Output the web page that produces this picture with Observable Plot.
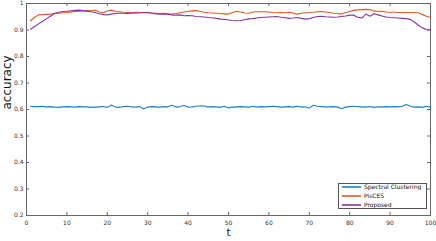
<!DOCTYPE html>
<html>
<head>
<meta charset="utf-8">
<script src="https://cdn.jsdelivr.net/npm/d3@7"></script>
<script src="https://cdn.jsdelivr.net/npm/@observablehq/plot@0.6"></script>
<style>
  html, body { margin: 0; padding: 0; background: #fff; }
  #chart { position: relative; width: 436px; height: 241px; }
  #chart svg { display: block; }
  .legend { position: absolute; left: 338px; top: 183px; width: 87px; height: 24px;
    border: 1px solid #555; background: #fff; font-family: "DejaVu Sans", sans-serif;
    font-size: 6px; color: #111; box-sizing: content-box; }
  .legend .row { position: absolute; left: 0; height: 6px; line-height: 6px; display: flex; align-items: center; }
  .legend svg.sw { display: block; margin: 0 3px 0 3px; }
</style>
</head>
<body>
<div id="chart"></div>
<script>
const seriesNames = ["Spectral Clustering", "PisCES", "Proposed"];
const seriesColors = ["#1a80cc", "#e05a22", "#86369a"];
const xTicks = [0, 10, 20, 30, 40, 50, 60, 70, 80, 90, 100];
const yTicks = [0.2, 0.3, 0.4, 0.5, 0.6, 0.7, 0.8, 0.9, 1];
const yTickLabels = ["0.2", "0.3", "0.4", "0.5", "0.6", "0.7", "0.8", "0.9", "1"];

const spectral = [
  0.612,0.611,0.611,0.612,0.610,0.611,0.609,0.608,0.610,0.611,
  0.610,0.609,0.611,0.610,0.610,0.608,0.609,0.610,0.611,0.608,
  0.617,0.609,0.608,0.611,0.612,0.610,0.609,0.611,0.602,0.609,
  0.611,0.610,0.609,0.611,0.610,0.616,0.609,0.611,0.615,0.609,
  0.610,0.612,0.614,0.613,0.609,0.611,0.610,0.608,0.612,0.606,
  0.609,0.610,0.611,0.610,0.609,0.612,0.609,0.611,0.610,0.611,
  0.612,0.611,0.609,0.610,0.611,0.609,0.612,0.609,0.610,0.605,
  0.616,0.612,0.611,0.610,0.610,0.611,0.609,0.603,0.609,0.611,
  0.612,0.611,0.610,0.609,0.611,0.608,0.610,0.610,0.611,0.610,
  0.611,0.610,0.612,0.619,0.612,0.609,0.610,0.608,0.612,0.609
];
const pisces = [
  0.935,0.948,0.957,0.958,0.959,0.960,0.962,0.963,0.965,0.966,
  0.968,0.970,0.971,0.972,0.973,0.972,0.975,0.968,0.965,0.972,
  0.975,0.970,0.969,0.967,0.966,0.965,0.967,0.966,0.966,0.967,
  0.964,0.963,0.962,0.963,0.961,0.960,0.962,0.965,0.968,0.971,
  0.972,0.973,0.970,0.967,0.965,0.964,0.963,0.962,0.961,0.960,
  0.966,0.971,0.968,0.964,0.963,0.968,0.969,0.969,0.969,0.968,
  0.966,0.965,0.966,0.965,0.967,0.964,0.960,0.963,0.965,0.966,
  0.967,0.969,0.970,0.968,0.966,0.963,0.962,0.960,0.966,0.970,
  0.974,0.976,0.977,0.978,0.977,0.972,0.970,0.971,0.968,0.967,
  0.967,0.966,0.966,0.966,0.966,0.966,0.965,0.958,0.952,0.948
];
const proposed = [
  0.903,0.913,0.923,0.933,0.943,0.953,0.963,0.967,0.970,0.971,
  0.972,0.974,0.975,0.973,0.971,0.969,0.966,0.961,0.958,0.957,
  0.960,0.962,0.963,0.963,0.962,0.963,0.964,0.964,0.966,0.965,
  0.963,0.961,0.960,0.960,0.960,0.957,0.956,0.957,0.954,0.955,
  0.954,0.951,0.950,0.949,0.947,0.946,0.944,0.941,0.940,0.938,
  0.936,0.935,0.936,0.939,0.942,0.943,0.945,0.947,0.948,0.949,
  0.950,0.951,0.948,0.946,0.944,0.945,0.947,0.944,0.941,0.943,
  0.947,0.951,0.952,0.950,0.949,0.948,0.949,0.951,0.953,0.956,
  0.956,0.948,0.945,0.960,0.952,0.961,0.957,0.953,0.949,0.947,
  0.946,0.945,0.944,0.943,0.940,0.930,0.918,0.908,0.902,0.900
];

const seriesValues = [spectral, pisces, proposed];
const data = [];
seriesValues.forEach((vals, s) => vals.forEach((v, i) => data.push({t: i + 1, acc: v, series: seriesNames[s]})));

const W = 436, H = 241, mL = 26, mR = 6, mT = 3, mB = 26;
const innerH = H - mT - mB, innerW = W - mL - mR;
const tk = 3;
const axisColor = "#666";

const chart = Plot.plot({
  width: W, height: H,
  marginLeft: mL, marginRight: mR, marginTop: mT, marginBottom: mB,
  style: {fontFamily: "DejaVu Sans, sans-serif", fontSize: "6px", color: "#333", background: "#fff"},
  x: {domain: [0, 100]},
  y: {domain: [0.2, 1]},
  color: {domain: seriesNames, range: seriesColors},
  marks: [
    Plot.frame({stroke: axisColor, strokeWidth: 1}),
    Plot.tickX(xTicks, {x: d => d, stroke: axisColor, insetTop: innerH - tk}),
    Plot.tickX(xTicks, {x: d => d, stroke: axisColor, insetBottom: innerH - tk}),
    Plot.tickY(yTicks, {y: d => d, stroke: axisColor, insetRight: innerW - tk}),
    Plot.tickY(yTicks, {y: d => d, stroke: axisColor, insetLeft: innerW - tk}),
    Plot.line(data, {x: "t", y: "acc", z: "series", stroke: "series", strokeWidth: 1.1}),
    Plot.axisX({ticks: xTicks, tickSize: 0, tickPadding: 5, label: null, fill: "#333"}),
    Plot.axisY({ticks: yTicks, tickSize: 0, tickPadding: 3, label: null, fill: "#333",
      tickFormat: d => yTickLabels[yTicks.indexOf(d)]}),
    Plot.text(["t"], {frameAnchor: "bottom", dy: 20, fontSize: 10.5, fill: "#111"}),
    Plot.text(["accuracy"], {frameAnchor: "left", rotate: -90, dx: -19, dy: 0, fontSize: 12, fill: "#111"})
  ]
});
const root = document.getElementById("chart");
root.appendChild(chart);

const leg = document.createElement("div");
leg.className = "legend";
const svgNS = "http://www.w3.org/2000/svg";
seriesNames.forEach((n, i) => {
  const row = document.createElement("div");
  row.className = "row";
  row.style.top = (i * 9) + "px";
  const sw = document.createElementNS(svgNS, "svg");
  sw.setAttribute("class", "sw");
  sw.setAttribute("width", "19");
  sw.setAttribute("height", "6");
  const ln = document.createElementNS(svgNS, "line");
  ln.setAttribute("x1", "0"); ln.setAttribute("x2", "19");
  ln.setAttribute("y1", "3"); ln.setAttribute("y2", "3");
  ln.setAttribute("stroke", seriesColors[i]);
  ln.setAttribute("stroke-width", "1.6");
  sw.appendChild(ln);
  const tx = document.createElement("span");
  tx.textContent = n;
  row.appendChild(sw); row.appendChild(tx);
  leg.appendChild(row);
});
root.appendChild(leg);
</script>
</body>
</html>
